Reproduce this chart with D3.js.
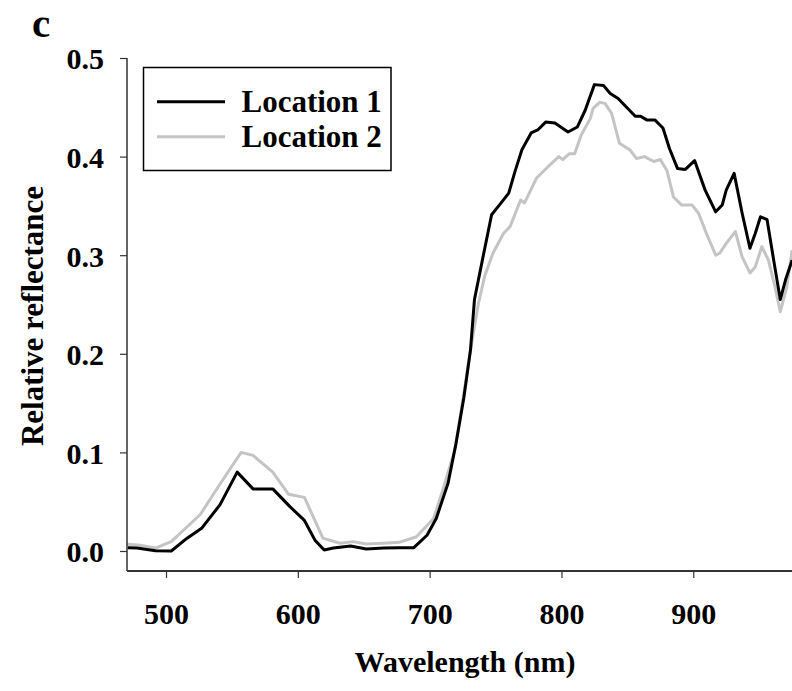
<!DOCTYPE html>
<html>
<head>
<meta charset="utf-8">
<script src="https://cdn.jsdelivr.net/npm/d3@7"></script>
<style>
  body { margin: 0; background: #fff; }
  svg text { font-family: "Liberation Serif", "Times New Roman", serif; font-weight: bold; fill: #000; }
</style>
</head>
<body>
<svg id="chart" width="792" height="691"></svg>
<script>
// ---------- data ----------
const wavelength1 = [471, 478, 492, 504, 516, 527, 541, 554, 566, 581, 594, 605, 613, 620, 627, 640, 652, 665, 677, 688,
  698, 705, 714, 720, 726, 731, 734, 740, 747, 753, 760, 765, 770, 777, 782, 788, 795, 805, 812, 818,
  825, 832, 837, 843, 856, 860, 865, 871, 877, 882, 888, 894, 901, 909, 917, 922, 925, 931, 937, 943,
  947, 951, 956, 961, 966, 970, 975];
const location1 = [0.0034, 0.003, 0.0003, 0, 0.013, 0.023, 0.047, 0.080, 0.063, 0.063, 0.045, 0.031, 0.011, 0.001, 0.003, 0.005, 0.002, 0.003, 0.0034, 0.0034,
  0.016, 0.033, 0.069, 0.109, 0.156, 0.204, 0.255, 0.295, 0.341, 0.351, 0.363, 0.386, 0.407, 0.424, 0.427, 0.435, 0.434, 0.425, 0.430, 0.447,
  0.473, 0.472, 0.464, 0.459, 0.441, 0.441, 0.437, 0.437, 0.429, 0.408, 0.388, 0.387, 0.396, 0.366, 0.344, 0.351, 0.366, 0.383, 0.343, 0.307,
  0.322, 0.339, 0.336, 0.295, 0.255, 0.275, 0.295];

const wavelength2 = [470, 479, 492, 504, 526, 541, 557, 566, 581, 593, 605, 619, 632, 642, 652, 665, 677, 690, 703, 710,
  719, 724, 731, 737, 742, 748, 756, 761, 769, 772, 781, 790, 798, 801, 806, 810, 815, 822, 824, 829,
  833, 838, 844, 852, 857, 863, 870, 875, 880, 885, 891, 899, 904, 910, 917, 920, 925, 932, 937, 943,
  947, 952, 957, 962, 966, 971, 975];
const location2 = [0.0068, 0.006, 0.003, 0.0095, 0.037, 0.068, 0.100, 0.097, 0.080, 0.0575, 0.0544, 0.013, 0.0078, 0.0095, 0.007, 0.0078, 0.0088, 0.0145, 0.033, 0.062,
  0.102, 0.143, 0.204, 0.251, 0.28, 0.302, 0.322, 0.329, 0.356, 0.353, 0.378, 0.390, 0.400, 0.397, 0.403, 0.403, 0.422, 0.439, 0.449, 0.455,
  0.454, 0.444, 0.4135, 0.4067, 0.398, 0.400, 0.395, 0.397, 0.386, 0.359, 0.351, 0.351, 0.3425, 0.322, 0.300, 0.302, 0.312, 0.324, 0.2985, 0.282,
  0.288, 0.3086, 0.295, 0.268, 0.2427, 0.268, 0.305];

const xTicks = [500, 600, 700, 800, 900];
const yTicks = [0.0, 0.1, 0.2, 0.3, 0.4, 0.5];
const seriesNames = ["Location 1", "Location 2"];
const seriesColors = ["#000000", "#c4c4c4"];

// ---------- layout ----------
const svg = d3.select("#chart");
const plotLeft = 127, plotRight = 792, plotTop = 58, plotBottom = 571;

const x = d3.scaleLinear().domain([470.4, 974.9]).range([plotLeft, plotRight]);
const y = d3.scaleLinear().domain([0, 0.5]).range([551, 58]);

// panel letter
svg.append("text").attr("x", 32).attr("y", 37).style("font-size", "41px").text("c");

// clip so curves stop at the axes / page edge
svg.append("clipPath").attr("id", "plotClip")
  .append("rect").attr("x", plotLeft).attr("y", 0).attr("width", plotRight - plotLeft).attr("height", plotBottom);

const line = d3.line().x((d) => x(d[0])).y((d) => y(d[1]));
const series = [
  d3.zip(wavelength2, location2),
  d3.zip(wavelength1, location1),
];

svg.append("g").attr("clip-path", "url(#plotClip)")
  .selectAll("path")
  .data(series)
  .join("path")
  .attr("d", line)
  .attr("fill", "none")
  .attr("stroke", (d, i) => (i === 0 ? seriesColors[1] : seriesColors[0]))
  .attr("stroke-width", 3)
  .attr("stroke-linejoin", "round");

// ---------- axes ----------
const yAxis = svg.append("g").attr("transform", `translate(${plotLeft},0)`)
  .call(d3.axisLeft(y).tickValues(yTicks).tickFormat(d3.format(".1f")).tickSize(7).tickPadding(16));
yAxis.select(".domain").attr("d", `M0,${plotTop}V${plotBottom}`).attr("stroke", "#333").attr("stroke-width", 1.5);
yAxis.selectAll(".tick line").attr("stroke", "#333").attr("stroke-width", 1.2);
yAxis.selectAll(".tick text").style("font-size", "30px").style("font-family", null).attr("dy", "0.36em");

const xAxis = svg.append("g").attr("transform", `translate(0,${plotBottom})`)
  .call(d3.axisBottom(x).tickValues(xTicks).tickFormat(d3.format("d")).tickSize(7).tickPadding(0));
xAxis.select(".domain").attr("d", `M${plotLeft},0H${plotRight}`).attr("stroke", "#333").attr("stroke-width", 2);
xAxis.selectAll(".tick line").attr("stroke", "#333").attr("stroke-width", 1.2);
xAxis.selectAll(".tick text").style("font-size", "30px").style("font-family", null).attr("y", 53).attr("dy", null);
svg.selectAll(".tick text").attr("fill", "#000");

// axis titles
svg.append("text").attr("x", 465).attr("y", 672).attr("text-anchor", "middle")
  .style("font-size", "30px").text("Wavelength (nm)");
svg.append("text").attr("transform", "translate(43,316) rotate(-90)").attr("text-anchor", "middle")
  .style("font-size", "31px").text("Relative reflectance");

// ---------- legend ----------
const legend = svg.append("g");
legend.append("rect").attr("x", 143.5).attr("y", 67.5).attr("width", 247.5).attr("height", 103)
  .attr("fill", "#fff").attr("stroke", "#000").attr("stroke-width", 1.5);
const rows = legend.selectAll("g.row").data(seriesNames).join("g").attr("class", "row")
  .attr("transform", (d, i) => `translate(0,${101.7 + i * 35})`);
rows.append("line").attr("x1", 157).attr("x2", 225)
  .attr("stroke", (d, i) => seriesColors[i]).attr("stroke-width", 3);
rows.append("text").attr("x", 241.5).attr("y", 10).style("font-size", "31px").text((d) => d);
</script>
</body>
</html>
